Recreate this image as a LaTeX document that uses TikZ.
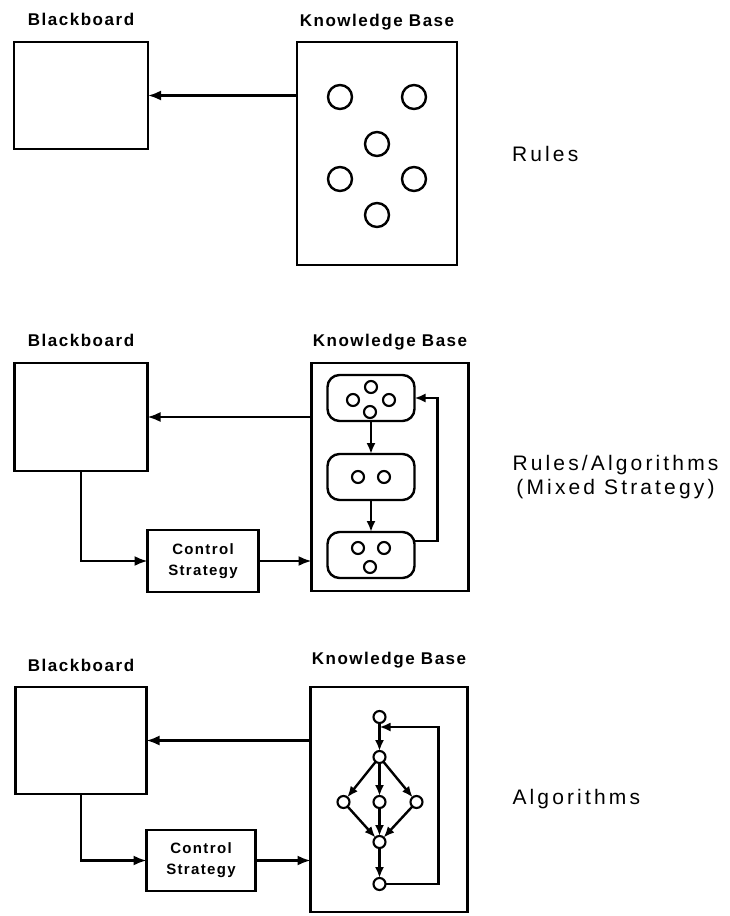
\documentclass[tikz,border=0pt]{standalone}
\usepackage{fontspec}
\setmainfont{Liberation Sans}
\newfontfamily\spacedfont[LetterSpace=9]{Liberation Sans}
\newfontfamily\widefont[LetterSpace=15]{Liberation Sans}
\usetikzlibrary{arrows.meta,positioning}

\begin{document}
\begin{tikzpicture}[
    x=1pt, y=-1pt,
    line width=2.4pt,
    panel/.style={draw, rectangle, inner sep=0pt, outer sep=0pt},
    head/.style={font=\spacedfont\bfseries\fontsize{17}{20}\selectfont,
      inner sep=0pt, outer sep=0pt, text height=12.5pt, text depth=4pt},
    kind/.style={font=\widefont\fontsize{21}{24}\selectfont, align=center,
      inner sep=0pt, outer sep=0pt},
    control/.style={draw, align=center, inner sep=0pt, outer sep=0pt,
      font=\spacedfont\bfseries\fontsize{15}{21}\selectfont},
    rulegroup/.style={draw, rounded corners=12pt, minimum width=87pt,
      minimum height=46pt, inner sep=0pt, outer sep=0pt},
    rule/.style={draw, circle, minimum size=24pt, inner sep=0pt},
    dot/.style={draw, circle, minimum size=12pt, inner sep=0pt, outer sep=0pt,
      line width=2.1pt},
    arrow/.style={-{Latex[length=13pt,width=10pt]}, line width=2.2pt},
    flow/.style={-{Latex[length=11pt,width=9pt]}, line width=2.4pt}
  ]
    \useasboundingbox (0,0) rectangle (729,916);

    % rules only
    \node[panel, minimum width=134pt, minimum height=107pt] (bb1) at (81,95.5) {};
    \node[panel, minimum width=160pt, minimum height=223pt,
      right=149pt of bb1.north east, anchor=north west] (kb1) {};
    \node[head, above=13pt of bb1] (bb1name) {Blackboard};
    \node[head, above=12pt of kb1] (kb1name) {Knowledge Base};
    \node[kind, right=55pt of kb1] (kind1) {Rules};

    \node[rule] (r1) at ([shift={(-37,-56.5)}]kb1.center) {};
    \node[rule] (r2) at ([shift={(37,-56.5)}]kb1.center) {};
    \node[rule] (r3) at ([shift={(0,-9.5)}]kb1.center) {};
    \node[rule] (r4) at ([shift={(-37,25.5)}]kb1.center) {};
    \node[rule] (r5) at ([shift={(37,25.5)}]kb1.center) {};
    \node[rule] (r6) at ([shift={(0,61.5)}]kb1.center) {};

    \draw[arrow] (kb1.west |- bb1.east) -- (bb1.east);

    % mixed strategy
    \node[panel, minimum width=133pt, minimum height=108pt, below=214pt of bb1] (bb2) {};
    \node[panel, minimum width=157pt, minimum height=228pt,
      right=164pt of bb2.north east, anchor=north west] (kb2) {};
    \node[control, minimum width=111pt, minimum height=62pt,
      below=59pt of bb2.south east, anchor=north west] (cs2) {Control\\Strategy};
    \node[head, above=13pt of bb2] (bb2name) {Blackboard};
    \node[head, above=12.5pt of kb2] (kb2name) {Knowledge Base};
    \node[kind, right=44pt of kb2] (kind2) {Rules/Algorithms\\(Mixed Strategy)};

    \node[rulegroup, below right=12pt and 16pt of kb2.north west] (ra) {};
    \node[rulegroup, below=33pt of ra] (rb) {};
    \node[rulegroup, below=32pt of rb] (rc) {};

    \node[dot] (ra1) at ([shift={(0,-11)}]ra.center) {};
    \node[dot] (ra2) at ([shift={(-18,2)}]ra.center) {};
    \node[dot] (ra3) at ([shift={(18,2)}]ra.center) {};
    \node[dot] (ra4) at ([shift={(-1,14)}]ra.center) {};
    \node[dot] (rb1) at ([shift={(-13,0)}]rb.center) {};
    \node[dot] (rb2) at ([shift={(13,0)}]rb.center) {};
    \node[dot] (rc1) at ([shift={(-13,-7)}]rc.center) {};
    \node[dot] (rc2) at ([shift={(13,-7)}]rc.center) {};
    \node[dot] (rc3) at ([shift={(-1,12)}]rc.center) {};

    \draw[arrow] (kb2.west |- bb2.east) -- (bb2.east);
    \draw[arrow] (bb2.south) |- (cs2.west);
    \draw[arrow] (cs2.east) -- (cs2.east -| kb2.west);
    \draw[flow] (ra) -- (rb);
    \draw[flow] (rb) -- (rc);
    \draw[flow] ([yshift=14pt]rc.east) -- ++(23pt,0) |- (ra.east);

    % algorithms only
    \node[panel, minimum width=131pt, minimum height=107pt, below=216pt of bb2] (bb3) {};
    \node[panel, minimum width=157pt, minimum height=225pt,
      right=164pt of bb3.north east, anchor=north west] (kb3) {};
    \node[control, minimum width=109pt, minimum height=61pt,
      below=36pt of bb3.south east, anchor=north west] (cs3) {Control\\Strategy};
    \node[head, above=11.5pt of bb3] (bb3name) {Blackboard};
    \node[head, above=19pt of kb3] (kb3name) {Knowledge Base};
    \node[kind, right=45pt of kb3] (kind3) {Algorithms};

    \node[dot] (n1) at ([shift={(69,30)}]kb3.north west) {};
    \node[dot, below=28pt of n1] (n2) {};
    \node[dot, below=33pt of n2] (n4) {};
    \node[dot, left=24pt of n4] (n3) {};
    \node[dot, right=25pt of n4] (n5) {};
    \node[dot, below=28pt of n4] (n6) {};
    \node[dot, below=30pt of n6] (n7) {};

    \draw[arrow] (kb3.west |- bb3.east) -- (bb3.east);
    \draw[arrow] (bb3.south) |- (cs3.west);
    \draw[arrow] (cs3.east) -- (cs3.east -| kb3.west);
    \draw[flow] (n1) -- (n2);
    \draw[flow] (n2) -- (n3);
    \draw[flow] (n2) -- (n4);
    \draw[flow] (n2) -- (n5);
    \draw[flow] (n3) -- (n6);
    \draw[flow] (n4) -- (n6);
    \draw[flow] (n5) -- (n6);
    \draw[flow] (n6) -- (n7);
    \draw[flow] (n7.east) -- ++(53pt,0) |- ([yshift=-4pt]n1.south);
  \end{tikzpicture}
\end{document}
